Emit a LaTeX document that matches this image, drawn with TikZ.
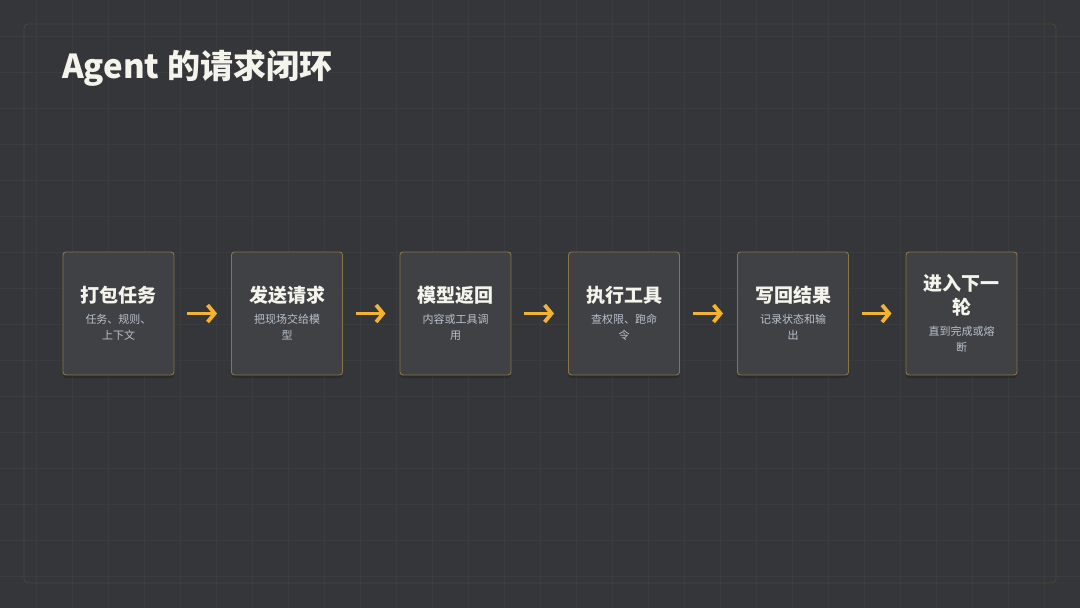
\documentclass[tikz,border=0pt]{standalone}
\usepackage{fontspec}
\setmainfont{Noto Sans CJK SC}
\usepackage{tikz}
\usetikzlibrary{arrows.meta}
\usetikzlibrary{shadows}
\definecolor{pagebg}{HTML}{353639}
\definecolor{gridcol}{HTML}{3B3C3F}
\definecolor{framecol}{HTML}{48453A}
\definecolor{boxfill}{HTML}{404144}
\definecolor{boxedge}{HTML}{8A7548}
\definecolor{titlecol}{HTML}{F4F3EC}
\definecolor{subcol}{HTML}{B9C2CE}
\definecolor{flowcol}{HTML}{F2B233}
\tikzset{
  stagebox/.style={draw=boxedge, fill=boxfill, rounded corners=3pt, line width=0.9pt,
    minimum width=111pt, minimum height=123pt, inner sep=0pt, text width=90pt, align=center,
    drop shadow={shadow xshift=0pt, shadow yshift=-3pt, opacity=0.2, fill=black}},
  flow/.style={draw=flowcol, line width=3.6pt, shorten <=13pt, shorten >=14pt,
    -{Straight Barb[length=7pt, width=17pt, line width=3.8pt]}}
}
\newcommand{\ttl}{\bfseries\color{titlecol}\fontsize{19}{24}\selectfont}
\newcommand{\sub}{\color{subcol}\fontsize{11}{16.5}\selectfont}
\newcommand{\stage}[4]{\node[stagebox] (#1) at (#2,313.5) {{\ttl #3\par}\vspace{4pt}{\sub #4\par}};}

\begin{document}
\begin{tikzpicture}[x=1pt, y=-1pt]
        \useasboundingbox (0,0) rectangle (1080,608);
        % page
        \fill[pagebg] (0,0) rectangle (1080,608);
        \foreach \gx in {36,72,...,1044} \draw[gridcol, line width=0.7pt] (\gx,0) -- (\gx,608);
        \foreach \gy in {36,72,...,576} \draw[gridcol, line width=0.7pt] (0,\gy) -- (1080,\gy);
        \draw[framecol, line width=0.8pt, rounded corners=4pt] (24,24) rectangle (1056,583);
        % title
        \node[anchor=base west, inner sep=0pt, text=titlecol, font=\bfseries\fontsize{33}{38}\selectfont] (heading) at (62,78) {Agent 的请求闭环};
        % stages
        \stage{pack}{118.5}{打包任务}{任务、规则、\\上下文}
        \stage{send}{287}{发送请求}{把现场交给模\\型}
        \stage{reply}{455.5}{模型返回}{内容或工具调\\用}
        \stage{tool}{624}{执行工具}{查权限、跑命\\令}
        \stage{write}{793}{写回结果}{记录状态和输\\出}
        \stage{next}{961.5}{进入下一\\轮}{直到完成或熔\\断}
        % arrows
        \draw[flow] (pack) -- (send);
        \draw[flow] (send) -- (reply);
        \draw[flow] (reply) -- (tool);
        \draw[flow] (tool) -- (write);
        \draw[flow] (write) -- (next);
\end{tikzpicture}
\end{document}
